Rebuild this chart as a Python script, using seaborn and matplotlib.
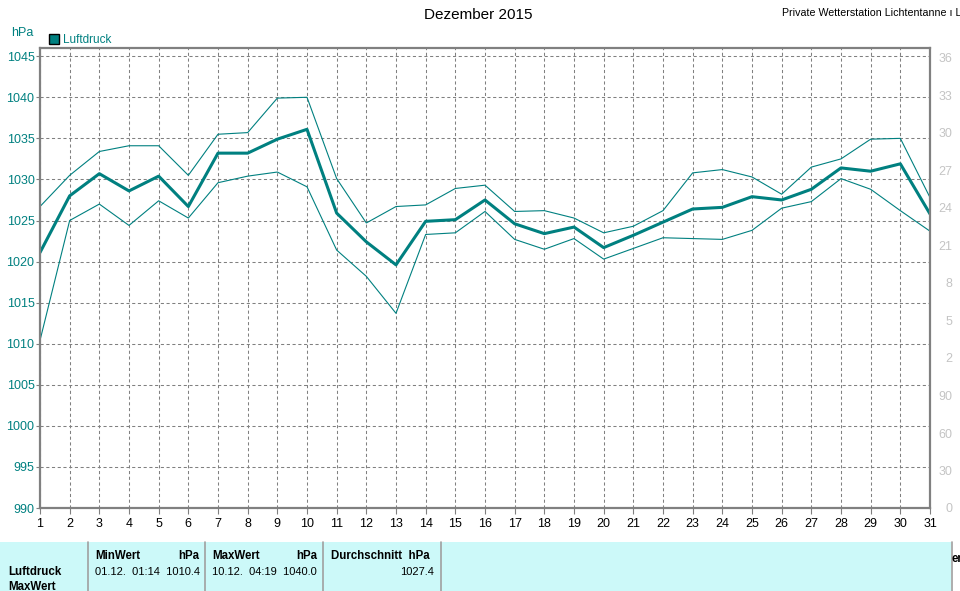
import matplotlib
matplotlib.use("Agg")
import matplotlib.pyplot as plt
from matplotlib.patches import Rectangle, Patch
import seaborn as sns
import pandas as pd

# ---- data ----
days = list(range(1, 32))
luft_mittel = [1021.1, 1028.0, 1030.7, 1028.6, 1030.4, 1026.7, 1033.2, 1033.2, 1034.9, 1036.1,
               1025.9, 1022.4, 1019.6, 1024.9, 1025.1, 1027.5, 1024.6, 1023.4, 1024.2, 1021.7,
               1023.2, 1024.8, 1026.4, 1026.6, 1027.9, 1027.5, 1028.8, 1031.4, 1031.0, 1031.9, 1025.8]
luft_max = [1026.7, 1030.5, 1033.4, 1034.1, 1034.1, 1030.5, 1035.5, 1035.7, 1039.9, 1040.0,
            1030.1, 1024.7, 1026.7, 1026.9, 1028.9, 1029.3, 1026.1, 1026.2, 1025.3, 1023.5,
            1024.3, 1026.2, 1030.8, 1031.2, 1030.3, 1028.2, 1031.5, 1032.5, 1034.9, 1035.0, 1027.8]
luft_min = [1010.4, 1025.0, 1027.0, 1024.4, 1027.4, 1025.3, 1029.6, 1030.4, 1030.9, 1029.1,
            1021.4, 1018.2, 1013.7, 1023.3, 1023.5, 1026.1, 1022.7, 1021.5, 1022.8, 1020.3,
            1021.6, 1022.9, 1022.8, 1022.7, 1023.8, 1026.5, 1027.3, 1030.1, 1028.8, 1026.2, 1023.7]
y_ticks = list(range(990, 1046, 5))
right_ticks = list(range(0, 37, 3))
right_labels = ["0", "30", "60", "90", "2", "5", "8", "21", "24", "27", "30", "33", "36"]

title = "Dezember 2015"
station = "Private Wetterstation Lichtentanne \u0131 Lichtentanne"
unit = "hPa"
series_name = "Luftdruck"
stats_min = ["MinWert", "hPa", "01.12.  01:14  1010.4"]
stats_max = ["MaxWert", "hPa", "10.12.  04:19  1040.0"]
stats_avg = ["Durchschnitt  hPa", "1027.4"]

df = pd.DataFrame({"Tag": days, "Mittel": luft_mittel, "Max": luft_max, "Min": luft_min})

TEAL = "#008080"
GRAY = "#808080"

sns.set_theme(style="white")
plt.rcParams["font.family"] = ["Liberation Sans", "DejaVu Sans"]

W, H = 960, 591
fig = plt.figure(figsize=(9.6, 5.91), dpi=100)
fig.patch.set_facecolor("white")

ax = fig.add_axes([40 / W, 1 - 508 / H, (930 - 40) / W, (508 - 48) / H])
ax.set_facecolor("white")

sns.lineplot(data=df, x="Tag", y="Max", ax=ax, color=TEAL, linewidth=0.8, zorder=3)
sns.lineplot(data=df, x="Tag", y="Min", ax=ax, color=TEAL, linewidth=0.8, zorder=3)
sns.lineplot(data=df, x="Tag", y="Mittel", ax=ax, color=TEAL, linewidth=2.2, zorder=4)

ax.set_xlim(1, 31)
ax.set_ylim(990, 1046)
ax.set_xticks(days)
ax.set_yticks(y_ticks)
ax.set_xlabel("")
ax.set_ylabel("")
ax.grid(True, color=GRAY, linestyle=(0, (3, 2.5)), linewidth=0.75, zorder=1)
ax.set_axisbelow(True)
for s in ax.spines.values():
    s.set_color(GRAY)
    s.set_linewidth(1.6)
    s.set_zorder(5)
ax.tick_params(axis="y", colors=GRAY, labelcolor=TEAL, labelsize=9, length=3, width=0.8,
               direction="out", left=True, pad=1)
ax.tick_params(axis="x", colors=GRAY, labelcolor="black", labelsize=9, length=4, width=0.8,
               direction="out", bottom=True, pad=3)

# secondary (partly hidden) right axis
ax2 = ax.twinx()
ax2.set_ylim(0, 36.8)
ax2.set_yticks(right_ticks)
ax2.set_yticklabels(right_labels)
ax2.tick_params(axis="y", length=0, labelsize=9, labelcolor="#c4c4c4", pad=16)
for lab in ax2.get_yticklabels():
    lab.set_horizontalalignment("right")
for s in ax2.spines.values():
    s.set_visible(False)
ax2.grid(False)

# legend
leg = ax.legend(handles=[Patch(facecolor=TEAL, edgecolor="black", linewidth=1.0)],
                labels=[series_name], loc="lower left",
                bbox_to_anchor=(49 / W, 1 - 46 / H), bbox_transform=fig.transFigure,
                frameon=False, handlelength=0.85, handleheight=0.85, handletextpad=0.3,
                borderpad=0, borderaxespad=0, fontsize=8.5)
for t in leg.get_texts():
    t.set_color(TEAL)

# overlay in pixel coordinates for texts and table
ov = fig.add_axes([0, 0, 1, 1], zorder=10)
ov.set_xlim(0, W)
ov.set_ylim(H, 0)
ov.axis("off")
ov.patch.set_alpha(0)

ov.text(478, 15, title, ha="center", va="center", fontsize=11, color="black")
ov.text(782, 13, station, ha="left", va="center", fontsize=7.7, color="black", clip_on=False)
ov.text(11, 33, unit, ha="left", va="center", fontsize=9, color=TEAL)

CYAN = "#ccf9f9"
ov.add_patch(Rectangle((0, 541.5), 951, 60, facecolor=CYAN, edgecolor="none"))
for xs in [88, 205, 323, 441, 952]:
    ov.plot([xs, xs], [541.5, 591], color="#a0a0a0", linewidth=1.2)

bold = dict(fontsize=8.3, fontweight="bold", color="black", va="center")
norm = dict(fontsize=8.0, color="black", va="center")
ov.text(95, 556, stats_min[0], ha="left", **bold)
ov.text(199, 556, stats_min[1], ha="right", **bold)
ov.text(95, 572, stats_min[2], ha="left", **norm)
ov.text(212, 556, stats_max[0], ha="left", **bold)
ov.text(317, 556, stats_max[1], ha="right", **bold)
ov.text(212, 572, stats_max[2], ha="left", **norm)
ov.text(331, 556, stats_avg[0], ha="left", **bold)
ov.text(434, 572, stats_avg[1], ha="right", **norm)
ov.text(8, 572, series_name, ha="left", **bold)
ov.text(8, 587, "MaxWert", ha="left", **bold)
ov.text(951, 559, "er", ha="left", **bold)

fig.savefig("out.png", dpi=100)
